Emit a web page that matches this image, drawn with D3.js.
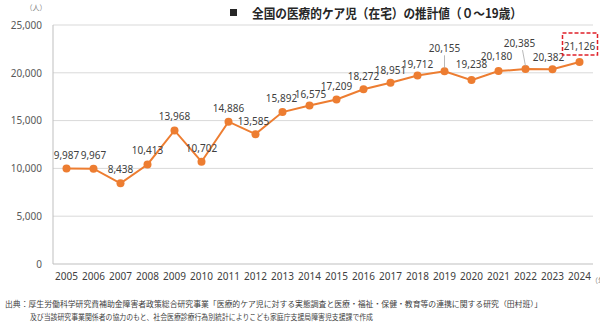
<!DOCTYPE html>
<html>
<head>
<meta charset="utf-8">
<script src="https://cdn.jsdelivr.net/npm/d3@7"></script>
<style>
  body { margin: 0; background: #fff; }
  svg { display: block; }
</style>
</head>
<body>
<script>
const years = [2005, 2006, 2007, 2008, 2009, 2010, 2011, 2012, 2013, 2014,
               2015, 2016, 2017, 2018, 2019, 2020, 2021, 2022, 2023, 2024];
const counts = [9987, 9967, 8438, 10413, 13968, 10702, 14886, 13585, 15892, 16575,
                17209, 18272, 18951, 19712, 20155, 19238, 20180, 20385, 20382, 21126];
const yTicks = [0, 5000, 10000, 15000, 20000, 25000];

const titleText = "全国の医療的ケア児（在宅）の推計値（０～19歳）";
const sourceLines = [
  "出典：厚生労働科学研究費補助金障害者政策総合研究事業「医療的ケア児に対する実態調査と医療・福祉・保健・教育等の連携に関する研究（田村班）」",
  "及び当該研究事業関係者の協力のもと、社会医療診療行為別統計によりこども家庭庁支援局障害児支援課で作成"
];

const outerWidth = 600;
const outerHeight = 325;
const margin = {top: 25, left: 53, bottom: 61, right: 7};
const width = outerWidth - margin.left - margin.right;
const height = outerHeight - margin.top - margin.bottom;

const numFont = "'Noto Sans', 'Open Sans', sans-serif";
const jpFont = "'Noto Sans CJK JP', sans-serif";

const root = d3.select('body')
  .append('svg')
  .attr('width', outerWidth)
  .attr('height', outerHeight);

const svg = root.append('g')
  .attr('transform', `translate(${margin.left}, ${margin.top})`);

const xScale = d3.scaleBand()
  .domain(years)
  .range([0, width]);

const yScale = d3.scaleLinear()
  .domain([0, 25000])
  .range([height, 0]);

// gridlines
svg.selectAll('line.grid')
  .data(yTicks)
  .enter()
  .append('line')
  .attr('class', 'grid')
  .attr('x1', 0)
  .attr('x2', width)
  .attr('y1', d => yScale(d))
  .attr('y2', d => yScale(d))
  .attr('stroke', d => d === 0 ? '#bfbfbf' : '#d9d9d9')
  .attr('stroke-width', 1);

// left axis line
svg.append('line')
  .attr('x1', 0).attr('x2', 0)
  .attr('y1', 0).attr('y2', height)
  .attr('stroke', '#bfbfbf');

const yAxis = d3.axisLeft(yScale)
  .tickValues(yTicks)
  .tickSize(0)
  .tickPadding(11)
  .tickFormat(d3.format(','));

svg.append('g')
  .attr('class', 'axis y-axis')
  .call(yAxis)
  .call(g => g.select('.domain').remove())
  .selectAll('text')
  .attr('font-family', numFont)
  .attr('font-size', 10)
  .attr('fill', '#595959');

const xAxis = d3.axisBottom(xScale)
  .tickSize(0)
  .tickPadding(9);

svg.append('g')
  .attr('class', 'axis x-axis')
  .attr('transform', `translate(0, ${height})`)
  .call(xAxis)
  .call(g => g.select('.domain').remove())
  .selectAll('text')
  .attr('font-family', numFont)
  .attr('font-size', 10)
  .attr('fill', '#404040');

const data = years.map((y, i) => ({year: y, value: counts[i]}));
const cx = d => xScale(d.year) + xScale.bandwidth() / 2;

// line
svg.append('path')
  .datum(data)
  .attr('fill', 'none')
  .attr('stroke', '#ed7d31')
  .attr('stroke-width', 2)
  .attr('d', d3.line().x(cx).y(d => yScale(d.value)));

svg.selectAll('circle')
  .data(data)
  .enter()
  .append('circle')
  .attr('cx', cx)
  .attr('cy', d => yScale(d.value))
  .attr('r', 4)
  .attr('fill', '#ed7d31');

// label offsets (dx, dy from point), a few labels are pulled up with leader lines
const labelOffset = {
  2005: [0, -10], 2006: [0, -10], 2007: [0, -10], 2008: [0, -10], 2009: [0, -10],
  2010: [0, -10], 2011: [0, -10], 2012: [-2, -9], 2013: [-1, -10], 2014: [1, -8],
  2015: [0, -9], 2016: [0, -9], 2017: [0, -9], 2018: [0, -8], 2019: [0, -19],
  2020: [0, -12], 2021: [-2, -11], 2022: [-6, -22], 2023: [-4, -8], 2024: [0, -12]
};
const leaders = [2019, 2022];

svg.selectAll('line.leader')
  .data(data.filter(d => leaders.includes(d.year)))
  .enter()
  .append('line')
  .attr('class', 'leader')
  .attr('x1', d => cx(d) + labelOffset[d.year][0] * 0.5)
  .attr('x2', cx)
  .attr('y1', d => yScale(d.value) + labelOffset[d.year][1] + 3)
  .attr('y2', d => yScale(d.value) - 3)
  .attr('stroke', '#a6a6a6')
  .attr('stroke-width', 0.8);

svg.selectAll('text.dlabel')
  .data(data)
  .enter()
  .append('text')
  .attr('class', 'dlabel')
  .attr('x', d => cx(d) + labelOffset[d.year][0])
  .attr('y', d => yScale(d.value) + labelOffset[d.year][1])
  .attr('text-anchor', 'middle')
  .attr('font-family', numFont)
  .attr('font-size', 10)
  .attr('fill', '#404040')
  .text(d => d3.format(',')(d.value));

// red dashed box around latest value
const last = data[data.length - 1];
svg.append('rect')
  .attr('x', cx(last) - 17)
  .attr('y', yScale(last.value) - 29)
  .attr('width', 35)
  .attr('height', 22)
  .attr('fill', 'none')
  .attr('stroke', '#e0202a')
  .attr('stroke-width', 1.5)
  .attr('stroke-dasharray', '4,2');

// unit labels
root.append('text')
  .attr('x', 36).attr('y', 10)
  .attr('text-anchor', 'middle')
  .attr('font-family', jpFont)
  .attr('font-size', 7)
  .attr('fill', '#7f7f7f')
  .text('（人）');

root.append('text')
  .attr('x', 591).attr('y', 283)
  .attr('font-family', jpFont)
  .attr('font-size', 7)
  .attr('fill', '#7f7f7f')
  .text('（年）');

// title
root.append('rect')
  .attr('x', 230).attr('y', 9)
  .attr('width', 7).attr('height', 7)
  .attr('fill', '#262626');

root.append('text')
  .attr('x', 252).attr('y', 18)
  .attr('font-family', jpFont)
  .attr('font-size', 13)
  .attr('font-weight', 'bold')
  .attr('fill', '#262626')
  .attr('textLength', 270)
  .attr('lengthAdjust', 'spacingAndGlyphs')
  .text(titleText);

// source
root.append('text')
  .attr('x', 5).attr('y', 307)
  .attr('font-family', jpFont)
  .attr('font-size', 7.5)
  .attr('fill', '#404040')
  .attr('textLength', 537)
  .attr('lengthAdjust', 'spacingAndGlyphs')
  .text(sourceLines[0]);

root.append('text')
  .attr('x', 30).attr('y', 320)
  .attr('font-family', jpFont)
  .attr('font-size', 7.5)
  .attr('fill', '#404040')
  .attr('textLength', 343)
  .attr('lengthAdjust', 'spacingAndGlyphs')
  .text(sourceLines[1]);
</script>
</body>
</html>
